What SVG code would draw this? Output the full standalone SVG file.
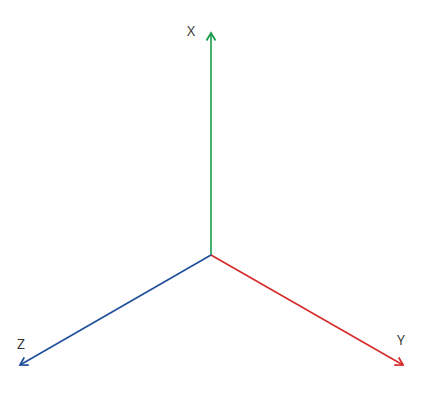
<svg xmlns="http://www.w3.org/2000/svg" width="423" height="400" viewBox="0 0 423 400">
<style>
.ax{fill:none;stroke-width:1.6}
.lbl{font-family:"Open Sans","Liberation Sans",sans-serif;font-size:14px;fill:#333}
</style>
<defs>
<marker id="mg" markerWidth="12" markerHeight="12" refX="9" refY="6" orient="auto" markerUnits="userSpaceOnUse"><path d="M1.5,1.5 L9,6 L1.5,10.5" fill="none" stroke="#1a9a4a" stroke-width="1.8"/></marker>
<marker id="mr" markerWidth="12" markerHeight="12" refX="9" refY="6" orient="auto" markerUnits="userSpaceOnUse"><path d="M1.5,1.5 L9,6 L1.5,10.5" fill="none" stroke="#d62b2b" stroke-width="1.8"/></marker>
<marker id="mb" markerWidth="12" markerHeight="12" refX="9" refY="6" orient="auto" markerUnits="userSpaceOnUse"><path d="M1.5,1.5 L9,6 L1.5,10.5" fill="none" stroke="#1f4e9a" stroke-width="1.8"/></marker>
</defs>
<g id="connectors">
<line class="ax" x1="211" y1="255" x2="211" y2="33" stroke="#1a9a4a" marker-end="url(#mg)"/>
<line class="ax" x1="211" y1="255" x2="403" y2="365" stroke="#d62b2b" marker-end="url(#mr)"/>
<line class="ax" x1="211" y1="255" x2="20" y2="365" stroke="#1f4e9a" marker-end="url(#mb)"/>
</g>
<g id="label-x"><text class="lbl" x="191" y="36" text-anchor="middle">X</text></g>
<g id="label-y"><text class="lbl" x="401" y="345" text-anchor="middle">Y</text></g>
<g id="label-z"><text class="lbl" x="21" y="349" text-anchor="middle">Z</text></g>
</svg>
